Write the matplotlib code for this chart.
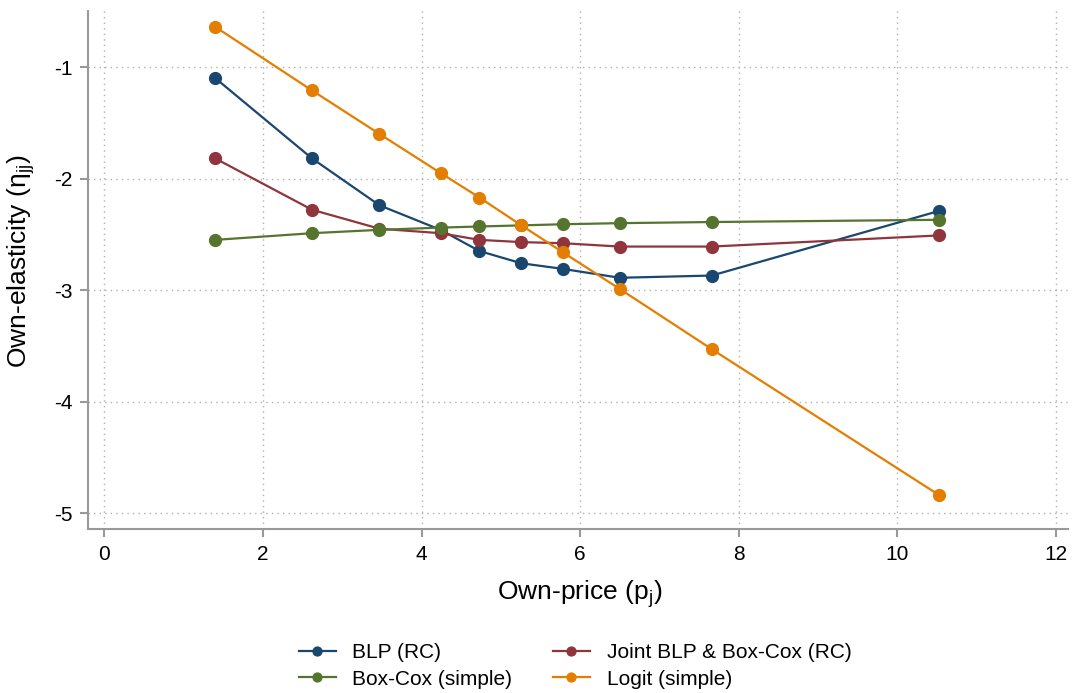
import matplotlib
matplotlib.use("Agg")
import matplotlib.pyplot as plt

plt.rcParams['font.family'] = ['Liberation Sans', 'DejaVu Sans']

price = [1.40, 2.62, 3.47, 4.24, 4.73, 5.26, 5.78, 6.50, 7.66, 10.53]
blp = [-1.10, -1.82, -2.24, -2.46, -2.65, -2.76, -2.81, -2.89, -2.87, -2.29]
joint = [-1.82, -2.28, -2.45, -2.49, -2.55, -2.57, -2.58, -2.61, -2.61, -2.51]
boxcox = [-2.55, -2.49, -2.46, -2.44, -2.43, -2.42, -2.41, -2.40, -2.39, -2.37]
logit = [-0.64, -1.21, -1.60, -1.95, -2.17, -2.42, -2.66, -2.99, -3.53, -4.84]

labels = ["BLP (RC)", "Joint BLP & Box-Cox (RC)", "Box-Cox (simple)", "Logit (simple)"]
colors = ["#1a476f", "#90353b", "#55752f", "#e37e00"]
xticks = [0, 2, 4, 6, 8, 10, 12]
yticks = [-5, -4, -3, -2, -1]

fig = plt.figure(figsize=(10.72, 6.93), dpi=100)
ax = fig.add_axes([0.0821, 0.2362, 0.9139, 0.7478])

series = [blp, joint, boxcox, logit]
handles = []
for ys, c, lab in zip(series, colors, labels):
    h, = ax.plot(price, ys, color=c, lw=1.6, marker='o', ms=8.5, label=lab, zorder=3)
    handles.append(h)

ax.set_xlim(-0.206, 12.15)
ax.set_ylim(-5.146, -0.498)
ax.set_xticks(xticks)
ax.set_yticks(yticks)
ax.set_xticklabels([str(t) for t in xticks])
ax.set_yticklabels([str(t) for t in yticks])
ax.grid(True, linestyle=(0, (1, 3)), color='#b0b0b0', lw=1.0)
for s in ['top', 'right']:
    ax.spines[s].set_visible(False)
for s in ['left', 'bottom']:
    ax.spines[s].set_color('#999999')
    ax.spines[s].set_linewidth(1.5)
ax.tick_params(axis='both', colors='#999999', length=6, width=1.5, labelsize=15, labelcolor='black', pad=5)

ax.set_xlabel(r"Own-price (p$_\mathregular{j}$)", fontsize=19)
ax.set_ylabel(r"Own-elasticity ($\mathregular{\eta}_\mathregular{jj}$)", fontsize=19)
ax.xaxis.set_label_coords(0.502, -0.094)
ax.yaxis.set_label_coords(-0.052, 0.518)

# legend order: row1 BLP, Joint ; row2 Box-Cox, Logit  (ncol=2 fills columns first)
order = [0, 2, 1, 3]
fig.legend([handles[i] for i in order], [labels[i] for i in order], ncol=2,
           loc='center', bbox_to_anchor=(575 / 1072, 1 - 666 / 693), frameon=False, fontsize=15,
           handlelength=1.78, handletextpad=0.8, columnspacing=1.95, labelspacing=0.35,
           markerscale=0.75)

fig.savefig("out.png", dpi=100, facecolor='white')
